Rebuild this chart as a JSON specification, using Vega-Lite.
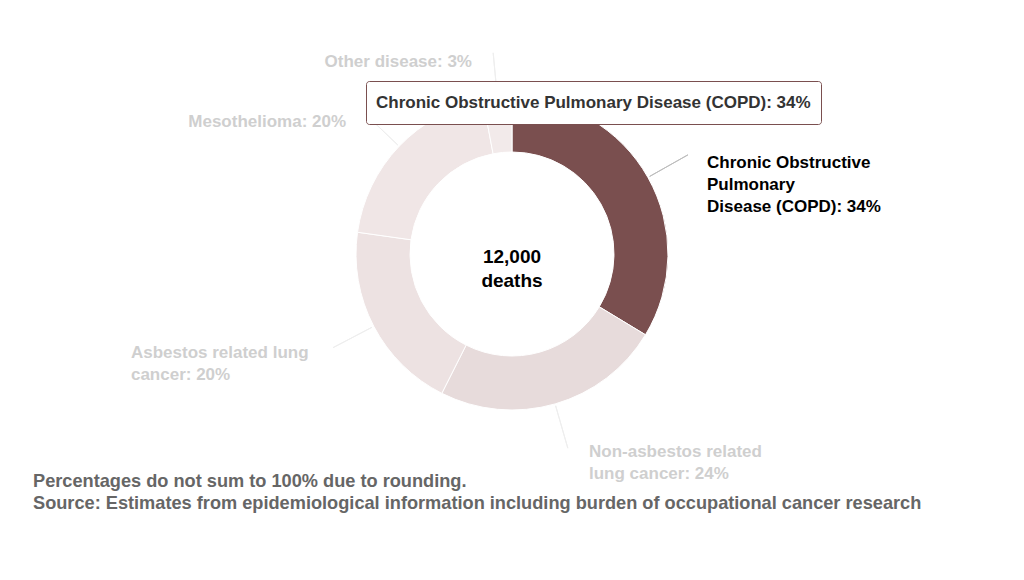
{
  "$schema": "https://vega.github.io/schema/vega-lite/v6.json",
  "width": 1024,
  "height": 508,
  "autosize": "none",
  "padding": {"left": 0, "top": 0, "right": 0, "bottom": 72},
  "background": "#ffffff",
  "config": {"view": {"stroke": null}, "font": "Liberation Sans"},
  "title": {
    "text": ["Percentages do not sum to 100% due to rounding.", "Source: Estimates from epidemiological information including burden of occupational cancer research"],
    "orient": "bottom", "anchor": "start", "frame": "group", "offset": -35, "dx": 33,
    "fontSize": 18.2, "fontWeight": "bold", "color": "#666666", "font": "Liberation Sans", "lineHeight": 22
  },
  "data": {"values": [
    {"cause": "Chronic Obstructive Pulmonary Disease (COPD)", "pct": 34, "order": 1, "label": "Chronic Obstructive\nPulmonary\nDisease (COPD): 34%"},
    {"cause": "Non-asbestos related lung cancer", "pct": 24, "order": 2, "label": "Non-asbestos related\nlung cancer: 24%"},
    {"cause": "Asbestos related lung cancer", "pct": 20, "order": 3, "label": "Asbestos related lung\ncancer: 20%"},
    {"cause": "Mesothelioma", "pct": 20, "order": 4, "label": "Mesothelioma: 20%"},
    {"cause": "Other disease", "pct": 3, "order": 5, "label": "Other disease: 3%"}
  ]},
  "layer": [
    {
      "mark": {"type": "arc", "radius": 156, "radius2": 102, "stroke": "#ffffff", "strokeWidth": 1},
      "encoding": {
        "theta": {"field": "pct", "type": "quantitative", "stack": true},
        "order": {"field": "order", "type": "quantitative"},
        "color": {
          "field": "cause", "type": "nominal",
          "scale": {
            "domain": ["Chronic Obstructive Pulmonary Disease (COPD)", "Non-asbestos related lung cancer", "Asbestos related lung cancer", "Mesothelioma", "Other disease"],
            "range": ["#7a4f4f", "#e7dbdb", "#ede2e2", "#f0e6e6", "#f2eaea"]
          },
          "legend": {
            "orient": "none", "legendX": 366, "legendY": 81,
            "values": ["Chronic Obstructive Pulmonary Disease (COPD)"],
            "labelExpr": "datum.label + ': 34%'",
            "labelFont": "Liberation Sans", "labelFontSize": 17, "labelFontWeight": "bold", "labelColor": "#333333", "labelLimit": 0,
            "symbolOpacity": 0, "symbolSize": 529, "symbolStrokeWidth": 0, "labelOffset": -23,
            "padding": 10, "fillColor": "#ffffff", "strokeColor": "#7a4f4f", "cornerRadius": 3, "title": null
          }
        }
      }
    },
    {
      "mark": {"type": "arc", "radius": 202, "radius2": 158, "padAngle": 3, "fillOpacity": 0, "strokeWidth": 1},
      "encoding": {
        "theta": {"field": "pct", "type": "quantitative", "stack": true},
        "order": {"field": "order", "type": "quantitative"},
        "detail": {"field": "cause"},
        "stroke": {"condition": {"test": "datum.order === 1", "value": "#bdbdbd"}, "value": "#eeeeee"}
      }
    },
    {
      "mark": {"type": "text", "radius": 190, "align": "left", "baseline": "top", "dx": 29.5, "dy": -5.5, "fontSize": 17, "fontWeight": "bold", "fill": "#000000", "lineBreak": "\n", "lineHeight": 22},
      "encoding": {
        "theta": {"field": "pct", "type": "quantitative", "stack": true},
        "order": {"field": "order", "type": "quantitative"},
        "detail": {"field": "cause"},
        "text": {"condition": {"test": "datum.order === 1", "field": "label"}, "value": ""}
      }
    },
    {
      "mark": {"type": "text", "radius": 190, "align": "left", "baseline": "top", "dx": 24.5, "dy": 7, "fontSize": 17, "fontWeight": "bold", "fill": "#cfcfcf", "lineBreak": "\n", "lineHeight": 22},
      "encoding": {
        "theta": {"field": "pct", "type": "quantitative", "stack": true},
        "order": {"field": "order", "type": "quantitative"},
        "detail": {"field": "cause"},
        "text": {"condition": {"test": "datum.order === 2", "field": "label"}, "value": ""}
      }
    },
    {
      "mark": {"type": "text", "radius": 190, "align": "left", "baseline": "top", "dx": -212.7, "dy": 2.5, "fontSize": 17, "fontWeight": "bold", "fill": "#cfcfcf", "lineBreak": "\n", "lineHeight": 22},
      "encoding": {
        "theta": {"field": "pct", "type": "quantitative", "stack": true},
        "order": {"field": "order", "type": "quantitative"},
        "detail": {"field": "cause"},
        "text": {"condition": {"test": "datum.order === 3", "field": "label"}, "value": ""}
      }
    },
    {
      "mark": {"type": "text", "radius": 190, "align": "right", "baseline": "middle", "dx": -28.5, "dy": -0.9, "fontSize": 17, "fontWeight": "bold", "fill": "#cfcfcf", "lineBreak": "\n", "lineHeight": 22},
      "encoding": {
        "theta": {"field": "pct", "type": "quantitative", "stack": true},
        "order": {"field": "order", "type": "quantitative"},
        "detail": {"field": "cause"},
        "text": {"condition": {"test": "datum.order === 4", "field": "label"}, "value": ""}
      }
    },
    {
      "mark": {"type": "text", "radius": 190, "align": "right", "baseline": "middle", "dx": -22.3, "dy": -3.1, "fontSize": 17, "fontWeight": "bold", "fill": "#cfcfcf", "lineBreak": "\n", "lineHeight": 22},
      "encoding": {
        "theta": {"field": "pct", "type": "quantitative", "stack": true},
        "order": {"field": "order", "type": "quantitative"},
        "detail": {"field": "cause"},
        "text": {"condition": {"test": "datum.order === 5", "field": "label"}, "value": ""}
      }
    },
    {
      "data": {"values": [{"centre": "12,000\ndeaths"}]},
      "mark": {"type": "text", "align": "center", "baseline": "alphabetic", "dy": 9.3, "fontSize": 19, "fontWeight": "bold", "fill": "#000000", "lineBreak": "\n", "lineHeight": 23.4},
      "encoding": {
        "text": {"field": "centre"}
      }
    }
  ]
}
